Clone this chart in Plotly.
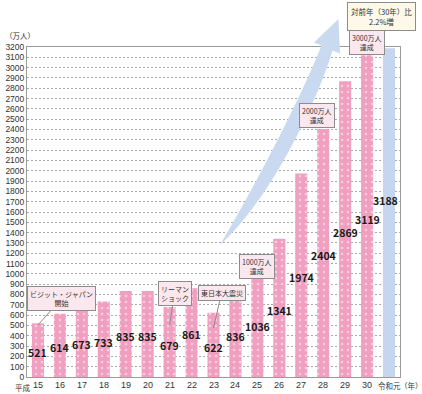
import plotly.graph_objects as go

# ---- data ----
categories = ["15", "16", "17", "18", "19", "20", "21", "22", "23", "24",
              "25", "26", "27", "28", "29", "30", "令和元"]
visitors = [521, 614, 673, 733, 835, 835, 679, 861, 622, 836,
            1036, 1341, 1974, 2404, 2869, 3119, 3188]
value_labels = [str(v) for v in visitors]
y_ticks = list(range(0, 3201, 100))

# label heights (data units) where the numbers are printed inside the bars
label_y = [233, 282, 311, 330, 388, 388, 301, 408, 282, 388,
           485, 641, 961, 1183, 1406, 1532, 1707]

W, H = 422, 394
L, R, T, B = 27, 22, 47, 17
PW, PH = W - L - R, H - T - B

PINK = "#f19fc0"
BLUE = "#c6d6ee"
JFONT = "Noto Sans CJK JP, sans-serif"
NFONT = "Liberation Sans, Arial, sans-serif"

x = list(range(len(categories)))

fig = go.Figure()
fig.add_trace(go.Bar(
    x=x[:-1], y=visitors[:-1], width=0.55,
    marker=dict(color=PINK, line=dict(width=0),
                pattern=dict(shape=".", fgcolor="white", bgcolor=PINK,
                             size=6, solidity=0.14)),
    hoverinfo="skip", showlegend=False))
fig.add_trace(go.Bar(
    x=x[-1:], y=visitors[-1:], width=0.55,
    marker=dict(color=BLUE, line=dict(width=0)),
    hoverinfo="skip", showlegend=False))


def P(px, py):
    return (px - L) / PW, (H - B - py) / PH


def pt(px, py):
    a, b = P(px, py)
    return f"{a:.5f},{b:.5f}"


# big upward arrow (decoration)
path = ("M " + pt(220, 245)
        + " C " + pt(253, 190) + " " + pt(300, 100) + " " + pt(321.5, 45.5)
        + " L " + pt(314, 42.5) + " L " + pt(338.5, 19) + " L " + pt(340, 53.5)
        + " L " + pt(332.5, 50.5)
        + " C " + pt(316, 105) + " " + pt(270, 200) + " " + pt(220, 245) + " Z")
shapes = [dict(type="path", xref="paper", yref="paper", path=path,
               fillcolor="#c8d9f0", line=dict(width=0), layer="above")]

annotations = []
for i, (txt, ly) in enumerate(zip(value_labels, label_y)):
    annotations.append(dict(x=i, y=ly, text=f"<b>{txt}</b>", showarrow=False,
                            xshift=-4 if i == len(categories) - 1 else 0,
                            font=dict(family=JFONT, size=10.5, color="#1a1a1a")))

# x tick labels
for i, c in enumerate(categories):
    is_jp = not c.isdigit()
    annotations.append(dict(x=i, y=P(0, 385)[1], yref="paper", text=c,
                            showarrow=False, yanchor="middle",
                            font=dict(family=JFONT if is_jp else NFONT,
                                      size=7.5 if is_jp else 9, color="#333")))

box = dict(bgcolor="#fbe8ee", bordercolor="#8c8c8c", borderwidth=1, borderpad=2,
           font=dict(family=JFONT, size=7, color="#333"))

callouts = [
    (0, 504, "ビジット・ジャパン<br>開始", 24, -27, True),
    (6, 504, "リーマン<br>ショック", 5, -32, True),
    (8, 475, "東日本大震災", 8, -35, True),
    (10, 1071, "1000万人<br>達成", 0, 0, False),
    (12.73, 2540, "2000万人<br>達成", 0, 0, False),
]
for cx, cy, txt, ax, ay, arrow in callouts:
    a = dict(x=cx, y=cy, text=txt, **box)
    if arrow:
        a.update(showarrow=True, arrowhead=0, arrowwidth=1, arrowcolor="#8c8c8c",
                 ax=ax, ay=ay, standoff=0)
    else:
        a.update(showarrow=False)
    annotations.append(a)

bx, by = P(367, 43)
annotations.append(dict(xref="paper", yref="paper", x=bx, y=by, xanchor="center",
                        yanchor="middle", text="3000万人<br>達成", showarrow=False, **box))

px_, py_ = P(381.5, 16.5)
annotations.append(dict(xref="paper", yref="paper", x=px_, y=py_, xanchor="center",
                        yanchor="middle",
                        text="対前年（30年）比<br>2.2%増", showarrow=False,
                        bgcolor="#fdf8e8", bordercolor="#8c8c8c", borderwidth=1,
                        borderpad=3, font=dict(family=JFONT, size=7.5, color="#333")))

ax0, ay0 = P(3, 35)
annotations.append(dict(xref="paper", yref="paper", x=ax0, y=ay0, text="（万人）",
                        xanchor="left", yanchor="middle", showarrow=False,
                        font=dict(family=JFONT, size=7.5, color="#333")))
hx, hy = P(32.5, 387.5)
annotations.append(dict(xref="paper", yref="paper", x=hx, y=hy, text="平成",
                        xanchor="right", yanchor="middle", showarrow=False,
                        font=dict(family=JFONT, size=7.5, color="#333")))
nx, ny = P(398, 385)
annotations.append(dict(xref="paper", yref="paper", x=nx, y=ny, text="（年）",
                        xanchor="left", yanchor="middle", showarrow=False,
                        font=dict(family=JFONT, size=7.5, color="#333")))

fig.update_layout(
    width=W, height=H, margin=dict(l=L, r=R, t=T, b=B, autoexpand=False),
    paper_bgcolor="white", plot_bgcolor="white",
    barmode="overlay", shapes=shapes, annotations=annotations,
    xaxis=dict(range=[-0.5, len(categories) - 0.5], tickvals=x,
               showticklabels=False,
               showgrid=False, zeroline=False, showline=True, linecolor="#9a9a9a",
               mirror=True, ticks="", fixedrange=True),
    yaxis=dict(range=[0, 3200], tickvals=y_ticks, ticktext=[str(v) for v in y_ticks],
               showgrid=True, gridcolor="#a8a8a8", griddash="2px,2px", gridwidth=1,
               zeroline=False, showline=True, linecolor="#9a9a9a", mirror=True,
               ticks="", tickfont=dict(family=NFONT, size=8.5, color="#333"),
               fixedrange=True),
)

fig.write_html("out.html", config={"displayModeBar": False},
               post_script="document.body.style.margin='0';document.body.style.overflow='hidden';")
